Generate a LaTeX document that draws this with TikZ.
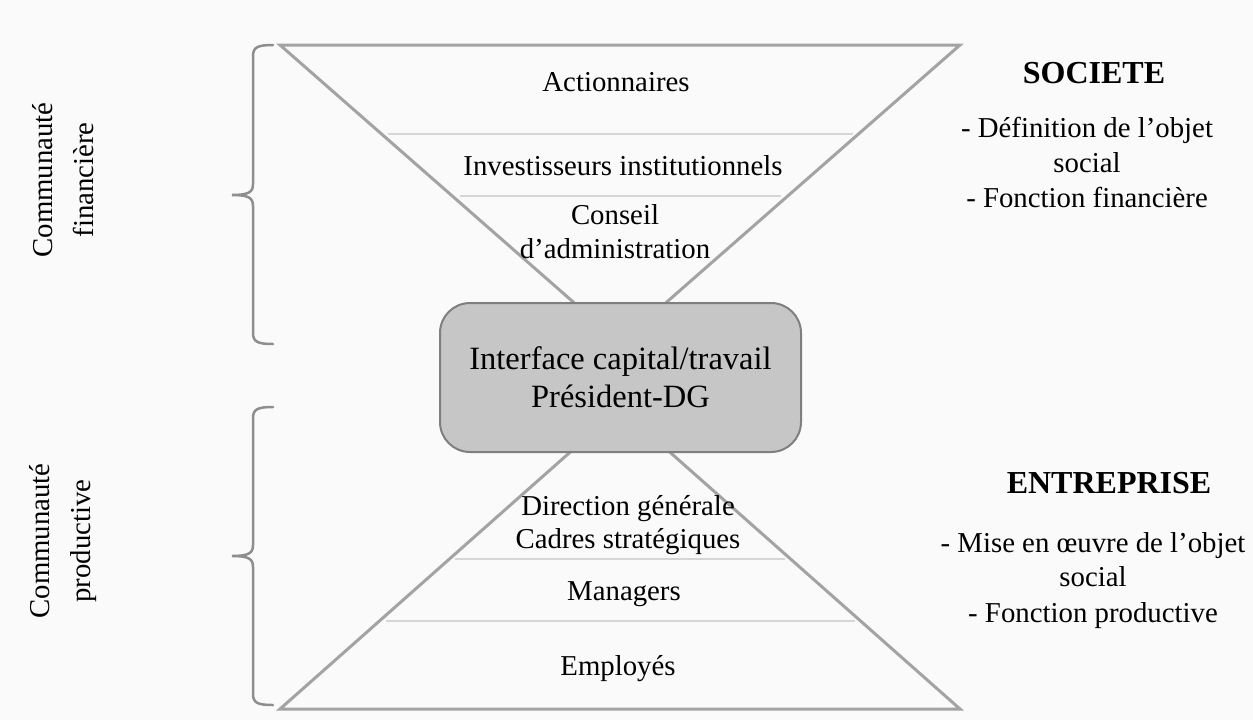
\documentclass[tikz,border=0pt]{standalone}
\usepackage{fontspec}
\setmainfont{Liberation Serif}
\definecolor{bg}{HTML}{FAFAFA}
\definecolor{triline}{HTML}{A3A3A3}
\definecolor{divline}{HTML}{D6D6D6}
\definecolor{braceline}{HTML}{8E8E8E}
\definecolor{boxfill}{HTML}{C6C6C6}
\definecolor{boxline}{HTML}{7F7F7F}
\begin{document}
\begin{tikzpicture}[x=1pt,y=-1pt,
  tri/.style={draw=triline,line width=3pt,line join=miter},
  divider/.style={draw=divline,line width=2pt},
  bracepath/.style={draw=braceline,line width=2.5pt,line cap=round},
  centerbox/.style={draw=boxline,fill=boxfill,line width=2pt,rounded corners=30pt,
     minimum width=361pt,minimum height=149pt,inner sep=0pt,align=center,
     font=\fontsize{32.5}{38}\selectfont},
  lbl/.style={font=\fontsize{28.8}{33}\selectfont,anchor=base,inner sep=0pt},
  head/.style={font=\fontsize{32}{36}\selectfont\bfseries,anchor=base,inner sep=0pt},
  sidelbl/.style={font=\fontsize{28.8}{41}\selectfont,align=center,rotate=90,inner sep=0pt}]
\useasboundingbox (0,0) rectangle (1253,720);
\fill[bg] (0,0) rectangle (1253,720);

% triangles (hourglass)
\coordinate (tl) at (280,45);
\coordinate (tr) at (960,45);
\coordinate (ta) at (620,343);
\coordinate (bl) at (280,709);
\coordinate (br) at (960,709);
\coordinate (ba) at (620,408);
\draw[tri] (tl) -- (tr) -- (ta) -- cycle;
\draw[tri] (bl) -- (br) -- (ba) -- cycle;

% dividers
\coordinate (d1l) at (388,134); \coordinate (d1r) at (853,134);
\coordinate (d2l) at (460,196); \coordinate (d2r) at (781,196);
\coordinate (d3l) at (455,559); \coordinate (d3r) at (785,559);
\coordinate (d4l) at (386,621); \coordinate (d4r) at (855,621);
\draw[divider] (d1l) -- (d1r);
\draw[divider] (d2l) -- (d2r);
\draw[divider] (d3l) -- (d3r);
\draw[divider] (d4l) -- (d4r);

% central box
\node[centerbox] (box) at (620.5,377.5) {Interface capital/travail\\Président-DG};

% top labels
\node[lbl] (act) at (616,91) {Actionnaires};
\node[lbl] (inv) at (623,175) {Investisseurs institutionnels};
\node[lbl] (cons1) at (615,224) {Conseil};
\node[lbl] (cons2) at (615,258) {d’administration};

% bottom labels
\node[lbl] (dir) at (628,515) {Direction générale};
\node[lbl] (cad) at (628,548) {Cadres stratégiques};
\node[lbl] (man) at (624,600) {Managers};
\node[lbl] (emp) at (618,675) {Employés};

% braces
\coordinate (b1top) at (273,45);
\coordinate (b1tip) at (232,195);
\coordinate (b1bot) at (273,344);
\draw[bracepath] (b1top) .. controls (258,45) and (253,47) .. (253,56)
  -- (253,184) .. controls (253,192) and (249,195) .. (b1tip)
  .. controls (249,195) and (253,198) .. (253,206)
  -- (253,333) .. controls (253,342) and (258,344) .. (b1bot);
\coordinate (b2top) at (273,407);
\coordinate (b2tip) at (232,556);
\coordinate (b2bot) at (273,705);
\draw[bracepath] (b2top) .. controls (258,407) and (253,409) .. (253,418)
  -- (253,545) .. controls (253,553) and (249,556) .. (b2tip)
  .. controls (249,556) and (253,559) .. (253,567)
  -- (253,694) .. controls (253,703) and (258,705) .. (b2bot);

% side labels
\node[sidelbl] (cf) at (63,180) {Communauté\\financière};
\node[sidelbl] (cp) at (63,541) {Communauté\\productive};

% right texts
\node[head] (soc) at (1094,83) {SOCIETE};
\node[lbl] (soc1) at (1087,137) {- Définition de l’objet};
\node[lbl] (soc2) at (1087,172) {social};
\node[lbl] (soc3) at (1087,207) {- Fonction financière};
\node[head] (ent) at (1109,493) {ENTREPRISE};
\node[lbl] (ent1) at (1093,552) {- Mise en œuvre de l’objet};
\node[lbl] (ent2) at (1093,586) {social};
\node[lbl] (ent3) at (1093,622) {- Fonction productive};
\end{tikzpicture}
\end{document}
